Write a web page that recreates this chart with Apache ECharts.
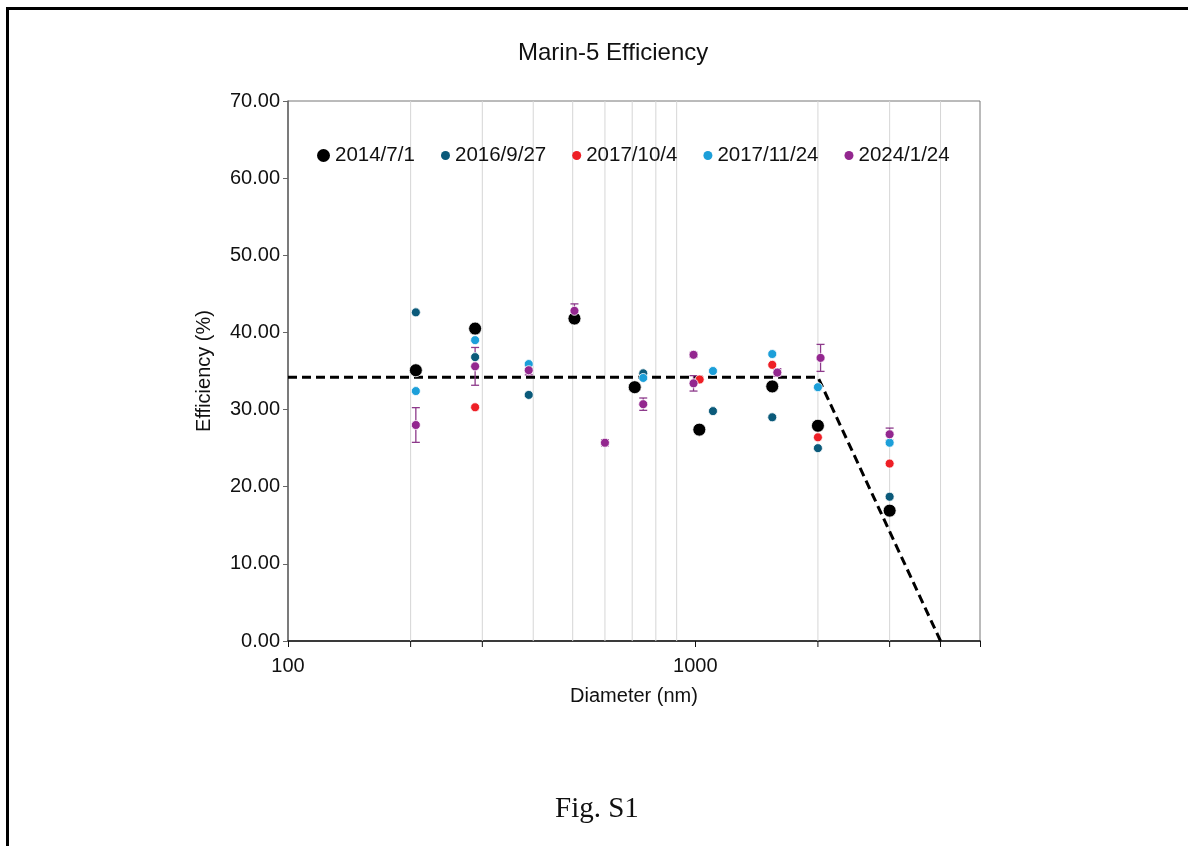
<!DOCTYPE html>
<html>
<head>
<meta charset="utf-8">
<title>Marin-5 Efficiency</title>
<script src="https://cdn.jsdelivr.net/npm/echarts@6/dist/echarts.min.js"></script>
<style>
    html, body { margin: 0; padding: 0; background: #fff; }
    #main { width: 1188px; height: 846px; }
</style>
</head>
<body>
<div id="main"></div>
<script>
    // 数据
    var seriesNames = ['2014/7/1', '2016/9/27', '2017/10/4', '2017/11/24', '2024/1/24'];
    var seriesColors = ['#000000', '#0b5a7a', '#ee1f26', '#1c9fd9', '#93278f'];

    var data20140701 = [[206, 35.1], [288, 40.5], [505, 41.8], [710, 32.9], [1023, 27.4], [1545, 33.0], [2000, 27.9], [3000, 16.9]];
    var data20160927 = [[206, 42.6], [288, 36.8], [390, 31.9], [745, 34.7], [1105, 29.8], [1545, 29.0], [2000, 25.0], [3000, 18.7]];
    var data20171004 = [[288, 30.3], [1025, 33.9], [1545, 35.8], [2000, 26.4], [3000, 23.0]];
    var data20171124 = [[206, 32.4], [288, 39.0], [390, 35.9], [745, 34.1], [1105, 35.0], [1545, 37.2], [2000, 32.9], [3000, 25.7]];
    var data20240124 = [[206, 28.0], [288, 35.6], [390, 35.1], [505, 42.8], [600, 25.7], [745, 30.7], [990, 37.1], [990, 33.4], [1590, 34.8], [2030, 36.7], [3000, 26.8]];
    var err20240124 = [2.25, 2.45, 0.6, 0.9, 0.4, 0.8, 0.3, 1.0, 0.5, 1.75, 0.8];

    // 趋势线 (虚线)
    var fitLine = [[100, 34.2], [2000, 34.2], [4000, 0]];

    // 坐标轴
    var xGridValues = [200, 300, 400, 500, 600, 700, 800, 900, 2000, 3000, 4000];
    var xExtraTicks = [200, 300, 2000, 3000, 4000];
    var xLabelValues = [100, 1000];
    var yMin = 0, yMax = 70, yStep = 10;

    var font = "'Liberation Sans', Arial, sans-serif";

    var myChart = echarts.init(document.getElementById('main'));

    var allData = [data20140701, data20160927, data20171004, data20171124, data20240124];
    var scatterSeries = [];
    for (var i = 0; i < allData.length; i++) {
        scatterSeries.push({
            name: seriesNames[i],
            type: 'scatter',
            data: allData[i],
            symbol: 'circle',
            symbolSize: i === 0 ? 13 : 9,
            itemStyle: {
                color: seriesColors[i],
                opacity: 1,
                borderColor: '#ffffff',
                borderWidth: 0.8
            },
            z: 5 + i
        });
    }

    var errData = data20240124.map(function (p, k) {
        return [p[0], p[1], err20240124[k]];
    });

    var option = {
        backgroundColor: '#fff',
        animation: false,
        title: {
            text: 'Marin-5 Efficiency',
            left: 518,
            top: 41,
            padding: 0,
            textStyle: { fontFamily: font, fontSize: 24, fontWeight: 'normal', color: '#111' }
        },
        legend: [
            {
                data: [seriesNames[0]],
                left: 317,
                top: 145,
                padding: 0,
                icon: 'circle',
                itemWidth: 13,
                itemHeight: 13,
                itemStyle: { opacity: 1, borderWidth: 0 },
                textStyle: { fontFamily: font, fontSize: 20.5, color: '#111' }
            },
            {
                data: seriesNames.slice(1),
                left: 441,
                top: 145,
                padding: 0,
                icon: 'circle',
                itemWidth: 9,
                itemHeight: 9,
                itemGap: 26,
                itemStyle: { opacity: 1, borderWidth: 0 },
                textStyle: { fontFamily: font, fontSize: 20.5, color: '#111' }
            }
        ],
        grid: {
            left: 288,
            right: 208,
            top: 101,
            bottom: 205,
            show: true,
            borderColor: '#777',
            borderWidth: 1
        },
        xAxis: {
            type: 'log',
            logBase: 10,
            min: 100,
            max: 5000,
            name: 'Diameter (nm)',
            nameLocation: 'middle',
            nameGap: 45,
            nameTextStyle: { fontFamily: font, fontSize: 20, color: '#111', verticalAlign: 'top' },
            axisLine: { lineStyle: { color: '#111', width: 1.5 } },
            axisTick: { show: true, length: 6, lineStyle: { color: '#111' } },
            axisLabel: {
                fontFamily: font,
                fontSize: 20,
                color: '#111',
                margin: 15,
                formatter: function (v) {
                    return xLabelValues.indexOf(Math.round(v)) >= 0 ? String(Math.round(v)) : '';
                }
            },
            splitLine: { show: false }
        },
        yAxis: {
            type: 'value',
            min: yMin,
            max: yMax,
            interval: yStep,
            name: 'Efficiency (%)',
            nameLocation: 'middle',
            nameGap: 74,
            nameTextStyle: { fontFamily: font, fontSize: 20, color: '#111' },
            axisLine: { show: true, lineStyle: { color: '#666', width: 1.5 } },
            axisTick: { show: true, length: 5, lineStyle: { color: '#666' } },
            axisLabel: {
                fontFamily: font,
                fontSize: 20,
                color: '#111',
                margin: 8,
                formatter: function (v) { return v.toFixed(2); }
            },
            splitLine: { show: false }
        },
        graphic: [
            {
                type: 'rect',
                shape: { x: 7.5, y: 8.5, width: 1400, height: 1000 },
                style: { fill: 'none', stroke: '#000', lineWidth: 3 },
                silent: true
            },
            {
                type: 'text',
                left: 555,
                top: 795,
                style: { text: 'Fig. S1', fontFamily: "'Liberation Serif', 'Times New Roman', serif", fontSize: 29, fill: '#111' }
            }
        ],
        series: [
            {
                // 竖向网格线及刻度
                type: 'custom',
                clip: false,
                silent: true,
                z: 1,
                data: xGridValues.map(function (v) { return [v, yMin]; }),
                renderItem: function (params, api) {
                    var xv = api.value(0);
                    var p0 = api.coord([xv, yMin]);
                    var p1 = api.coord([xv, yMax]);
                    var children = [{
                        type: 'line',
                        shape: { x1: p0[0], y1: p0[1], x2: p1[0], y2: p1[1] },
                        style: { stroke: '#d6d6d6', lineWidth: 1 }
                    }];
                    if (xExtraTicks.indexOf(xv) >= 0) {
                        children.push({
                            type: 'line',
                            shape: { x1: p0[0], y1: p0[1], x2: p0[0], y2: p0[1] + 6 },
                            style: { stroke: '#111', lineWidth: 1 }
                        });
                    }
                    return { type: 'group', children: children };
                }
            },
            {
                type: 'line',
                data: fitLine,
                symbol: 'none',
                silent: true,
                lineStyle: { color: '#000', width: 3, type: [9, 5] },
                z: 3
            },
            {
                // 误差线
                type: 'custom',
                silent: true,
                z: 4,
                data: errData,
                renderItem: function (params, api) {
                    var xv = api.value(0), yv = api.value(1), e = api.value(2);
                    var top = api.coord([xv, yv + e]);
                    var bot = api.coord([xv, yv - e]);
                    var hw = 4;
                    var st = { stroke: '#8d3a8b', lineWidth: 1.3 };
                    return {
                        type: 'group',
                        children: [
                            { type: 'line', shape: { x1: top[0], y1: top[1], x2: bot[0], y2: bot[1] }, style: st },
                            { type: 'line', shape: { x1: top[0] - hw, y1: top[1], x2: top[0] + hw, y2: top[1] }, style: st },
                            { type: 'line', shape: { x1: bot[0] - hw, y1: bot[1], x2: bot[0] + hw, y2: bot[1] }, style: st }
                        ]
                    };
                }
            }
        ].concat(scatterSeries)
    };

    myChart.setOption(option);
</script>
</body>
</html>
